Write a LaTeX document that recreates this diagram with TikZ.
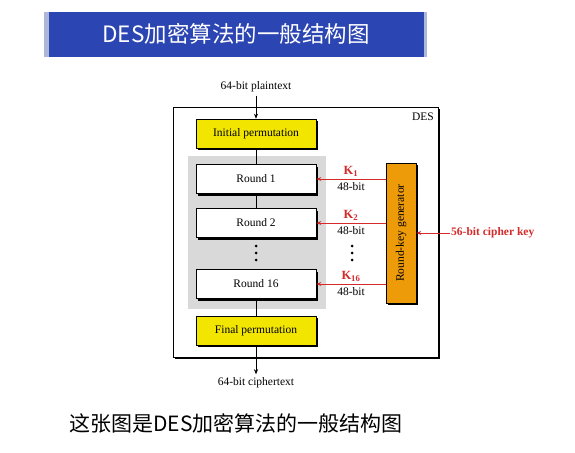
\documentclass[tikz,border=0pt]{standalone}
\usepackage{fontspec}
\setmainfont{Liberation Serif}
\newfontfamily\cjk{Noto Sans CJK SC}
\usetikzlibrary{shadows, arrows.meta}
\definecolor{titleblue}{HTML}{2B45B2}
\definecolor{titleedge}{HTML}{AEB6DA}
\definecolor{permyellow}{HTML}{F2E600}
\definecolor{genorange}{HTML}{EE9B0A}
\definecolor{keyred}{HTML}{D42A2A}
\definecolor{roundgray}{HTML}{D9D9D9}

\begin{document}
\begin{tikzpicture}[x=1pt, y=-1pt,
	stage/.style={draw, line width=0.6pt, minimum width=120pt, minimum height=29pt, font=\fontsize{11.5}{13}\selectfont,
		drop shadow={shadow xshift=2pt, shadow yshift=-2pt, fill=black, opacity=1}},
	permbox/.style={stage, fill=permyellow},
	roundbox/.style={stage, fill=white},
	flow/.style={line width=0.6pt, -{Stealth[length=5pt, width=4pt]}},
	keyarrow/.style={draw=keyred, line width=0.8pt, -{Stealth[length=5pt, width=4pt]}},
	keylabel/.style={text=keyred, font=\fontsize{12.5}{14}\selectfont\bfseries, inner sep=1pt},
	bitlabel/.style={font=\fontsize{11.5}{13}\selectfont, inner sep=1pt},
	vdot/.style={circle, fill=black, inner sep=0pt, minimum size=3pt}]
	\useasboundingbox (0,0) rectangle (575,452);
	% title bar
	\fill[titleedge] (44,12) rectangle (427,57);
	\fill[titleblue] (49,12) rectangle (424,57);
	\node[text=white, font=\fontsize{22.5}{24}\cjk] (title) at (236,34) {DES加密算法的一般结构图};
	% DES frame
	\filldraw[fill=white, line width=1pt, drop shadow={shadow xshift=2pt, shadow yshift=-2pt, fill=black, opacity=1}] (173,107) rectangle (438,357);
	\node[font=\fontsize{11.5}{13}\selectfont] (des) at (423,117) {DES};
	\fill[roundgray] (188,156) rectangle (326,309);
	% stages
	\node[font=\fontsize{11.5}{13}\selectfont] (pt) at (256,87) {64-bit plaintext};
	\node[permbox] (ip) at (256,133.5) {Initial permutation};
	\node[roundbox] (r1) at (256,179) {Round 1};
	\node[roundbox] (r2) at (256,223) {Round 2};
	\node[roundbox] (r16) at (256,284) {Round 16};
	\node[permbox] (fp) at (256,330.5) {Final permutation};
	\node[font=\fontsize{11.5}{13}\selectfont] (ct) at (256,383) {64-bit ciphertext};
	\foreach \y in {246,253,260} {
		\node[vdot] at (256,\y) {};
		\node[vdot] at (352,\y) {};
	}
	\draw[flow] (pt) -- (ip);
	\draw[line width=0.6pt] (ip) -- (r1);
	\draw[line width=0.6pt] (r1) -- (r2);
	\draw[line width=0.6pt] (r16) -- (fp);
	\draw[flow] (fp) -- (ct);
	% key schedule
	\node[draw, fill=genorange, line width=0.6pt, minimum width=30pt, minimum height=140pt, inner sep=0pt,
		font=\fontsize{11.5}{13}\selectfont,
		drop shadow={shadow xshift=2pt, shadow yshift=-2pt, fill=black, opacity=1}] (gen) at (401,233) {\rotatebox{90}{Round-key generator}};
	\draw[keyarrow] (gen.west |- r1) -- node[keylabel, above=1pt] (k1) {K$_{\mathbf{1}}$} node[bitlabel, below=2pt] (b1) {48-bit} (r1.east);
	\draw[keyarrow] (gen.west |- r2) -- node[keylabel, above=1pt] (k2) {K$_{\mathbf{2}}$} node[bitlabel, below=2pt] (b2) {48-bit} (r2.east);
	\draw[keyarrow] (gen.west |- r16) -- node[keylabel, above=1pt] (k16) {K$_{\mathbf{16}}$} node[bitlabel, below=2pt] (b16) {48-bit} (r16.east);
	\node[keylabel, font=\fontsize{11.5}{13}\selectfont\bfseries, anchor=west] (ck) at (450,233) {56-bit cipher key};
	\draw[keyarrow] (ck.west) -- (gen.east);
	% caption
	\node[font=\fontsize{21}{24}\cjk] (caption) at (236,423) {这张图是DES加密算法的一般结构图};
\end{tikzpicture}
\end{document}
